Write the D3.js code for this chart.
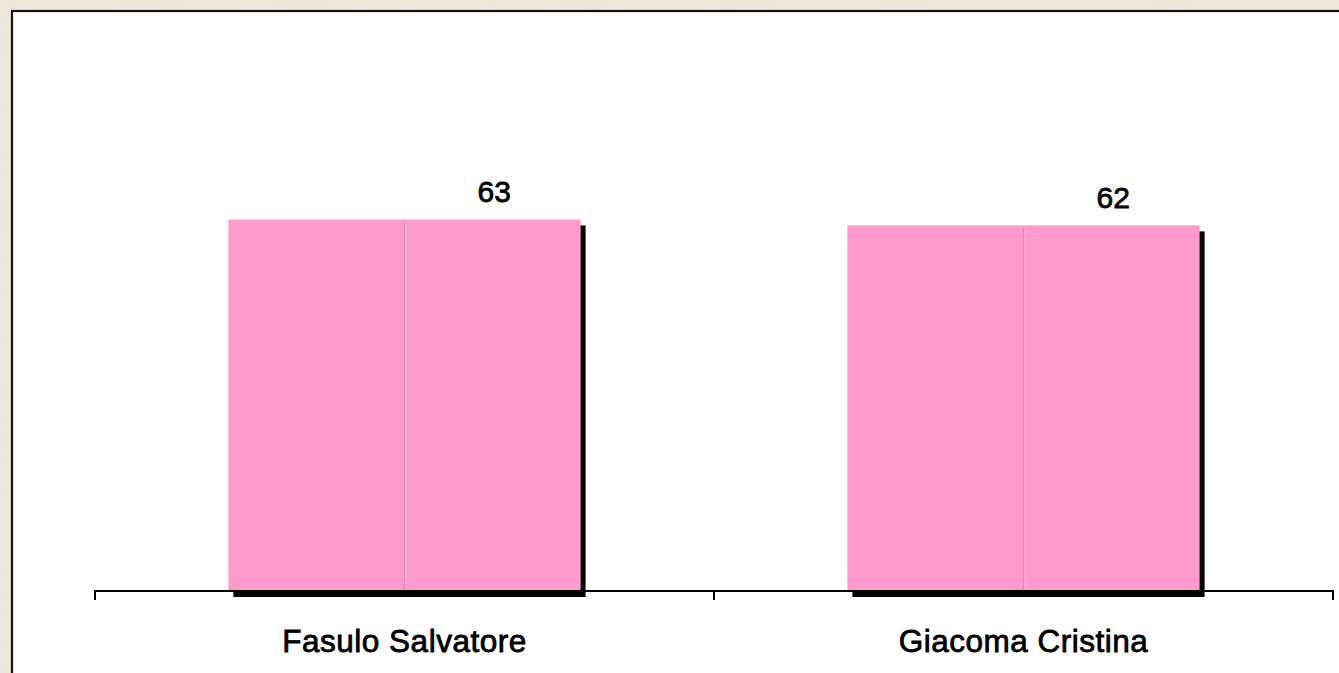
<!DOCTYPE html>
<html>
<head>
<meta charset="utf-8">
<script src="https://cdn.jsdelivr.net/npm/d3@7"></script>
<style>
  html, body { margin: 0; padding: 0; overflow: hidden; }
  svg { display: block; }
</style>
</head>
<body>
<div id="chart"></div>
<script>
var width = 1339,
height = 673;

// data
var categories = ["Fasulo Salvatore", "Giacoma Cristina"];
var values = [63, 62];

var svg = d3.select("#chart").append("svg")
  .attr("width", width)
  .attr("height", height);

// parchment background
var defs = svg.append("defs");
var filt = defs.append("filter").attr("id", "paper")
  .attr("x", 0).attr("y", 0).attr("width", "100%").attr("height", "100%");
filt.append("feTurbulence")
  .attr("type", "fractalNoise")
  .attr("baseFrequency", "0.015 0.06")
  .attr("numOctaves", 4)
  .attr("seed", 3)
  .attr("result", "noise");
filt.append("feColorMatrix")
  .attr("in", "noise")
  .attr("type", "matrix")
  .attr("values", "0 0 0 0 0.84  0 0 0 0 0.78  0 0 0 0 0.70  1.6 0 0 0 -0.55")
  .attr("result", "tint");
filt.append("feFlood").attr("flood-color", "#efe7da").attr("result", "base");
filt.append("feComposite").attr("in", "tint").attr("in2", "base").attr("operator", "over");

svg.append("rect")
  .attr("width", width).attr("height", height)
  .attr("fill", "#efe7da")
  .attr("filter", "url(#paper)");

// white chart panel
svg.append("rect")
  .attr("x", 12).attr("y", 11)
  .attr("width", width + 20).attr("height", height + 20)
  .attr("fill", "#ffffff")
  .attr("stroke", "#111")
  .attr("stroke-width", 2.2);

var x = d3.scaleBand()
  .domain(categories)
  .range([95, 1333]);

var y = d3.scaleLinear()
  .domain([0, 70])
  .range([591, 591 - 70 * 5.897]);

var barFrac = 0.569;
var bw = x.bandwidth() * barFrac;
function barX(c) { return x(c) + (x.bandwidth() - bw) / 2; }

var g = svg.append("g");

// shadows
g.selectAll(".shadow").data(categories).enter().append("rect")
  .attr("class", "shadow")
  .attr("x", function(d) { return barX(d) + 5; })
  .attr("y", function(d, i) { return y(values[i]) + 6; })
  .attr("width", bw)
  .attr("height", function(d, i) { return y(0) - y(values[i]); })
  .attr("fill", "#000");

// bars
g.selectAll(".bar").data(categories).enter().append("rect")
  .attr("class", "bar")
  .attr("x", barX)
  .attr("y", function(d, i) { return y(values[i]); })
  .attr("width", bw)
  .attr("height", function(d, i) { return y(0) - y(values[i]); })
  .attr("fill", "#fe9bcc");

// middle seam of each bar
g.selectAll(".seam").data(categories).enter().append("line")
  .attr("x1", function(d) { return barX(d) + bw / 2; })
  .attr("x2", function(d) { return barX(d) + bw / 2; })
  .attr("y1", function(d, i) { return y(values[i]) + 3; })
  .attr("y2", y(0))
  .attr("stroke", "#e08ab8")
  .attr("stroke-width", 1.2);
g.selectAll(".seam2").data(categories).enter().append("line")
  .attr("x1", function(d) { return barX(d) + bw / 2 + 1.5; })
  .attr("x2", function(d) { return barX(d) + bw / 2 + 1.5; })
  .attr("y1", function(d, i) { return y(values[i]) + 3; })
  .attr("y2", y(0))
  .attr("stroke", "#ffb0d8")
  .attr("stroke-width", 1);

// axis
var ticks = categories.map(function(c) { return x(c); }).concat([x.range()[1]]);
svg.append("line")
  .attr("x1", x.range()[0]).attr("x2", x.range()[1])
  .attr("y1", y(0)).attr("y2", y(0))
  .attr("stroke", "#000").attr("stroke-width", 2);
svg.selectAll(".tick").data(ticks).enter().append("line")
  .attr("x1", function(d) { return d; }).attr("x2", function(d) { return d; })
  .attr("y1", y(0) - 1).attr("y2", y(0) + 9)
  .attr("stroke", "#000").attr("stroke-width", 2);

// category labels
svg.selectAll(".cat").data(categories).enter().append("text")
  .attr("x", function(d) { return x(d) + x.bandwidth() / 2; })
  .attr("y", 652)
  .attr("text-anchor", "middle")
  .attr("font-family", "Liberation Sans, Arial, sans-serif")
  .attr("font-size", 31.5)
  .attr("letter-spacing", 0.5)
  .attr("fill", "#000")
  .attr("stroke", "#000")
  .attr("stroke-width", 0.8)
  .text(function(d) { return d; });

// value labels
svg.selectAll(".val").data(categories).enter().append("text")
  .attr("x", function(d) { return x(d) + x.bandwidth() * 0.645; })
  .attr("y", function(d, i) { return y(values[i]) - 17.5; })
  .attr("text-anchor", "middle")
  .attr("font-family", "Liberation Sans, Arial, sans-serif")
  .attr("font-size", 30)
  .attr("fill", "#000")
  .attr("stroke", "#000")
  .attr("stroke-width", 0.8)
  .text(function(d, i) { return values[i]; });
</script>
</body>
</html>
